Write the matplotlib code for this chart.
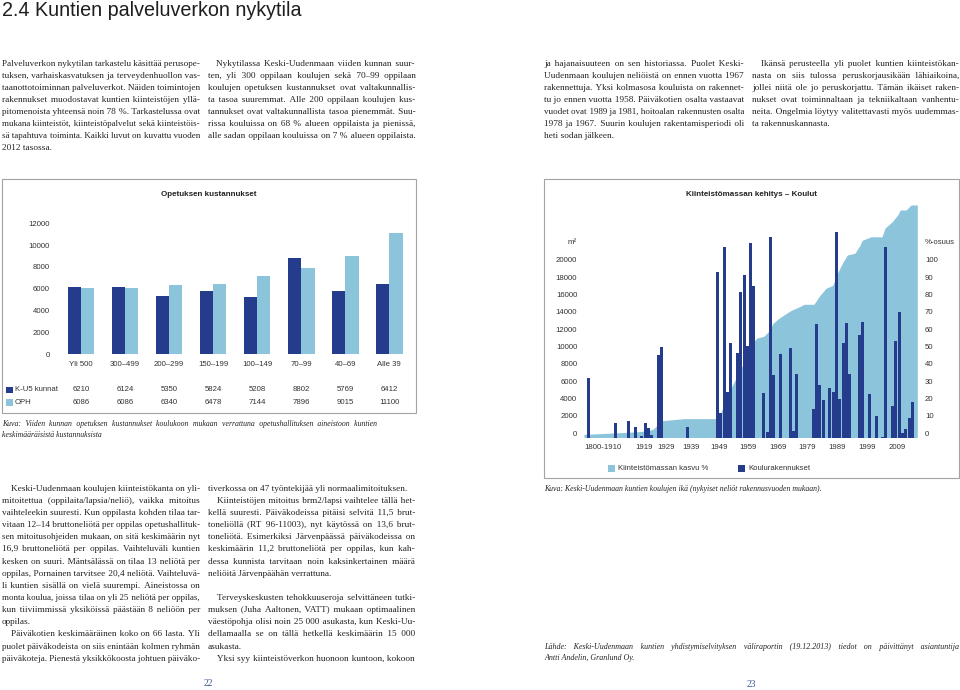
import numpy as np
import matplotlib
matplotlib.use("Agg")
import matplotlib.pyplot as plt
from matplotlib.font_manager import FontProperties
from matplotlib.patches import Rectangle
from matplotlib.transforms import ScaledTranslation, blended_transform_factory

W, H, DPI = 960, 690, 100
DARK = "#253b8c"
LIGHT = "#8cc4dc"
INK = "#333333"
BODY = "#222222"
SANS = ["Liberation Sans", "DejaVu Sans"]
SERIF = ["Liberation Serif", "DejaVu Serif"]
plt.rcParams["font.family"] = SANS

# ─── Left chart data: teaching costs by school size ───────────────────────────
size_groups = ["Yli 500", "300–499", "200–299", "150–199",
               "100–149", "70–99", "40–69", "Alle 39"]
cost_ku5 = [6210, 6124, 5350, 5824, 5208, 8802, 5769, 6412]
cost_oph = [6086, 6086, 6340, 6478, 7144, 7896, 9015, 11100]

# ─── Right chart data: school floor area by build year (slot index) ───────────
bar_slot = [1, 9, 13, 15, 17, 18, 19, 20, 22, 23, 31,
            40, 41, 42, 43, 44, 46, 47, 48, 49, 50, 51,
            54, 55, 56, 57, 59, 62, 63, 64,
            69, 70, 71, 72, 74, 75, 76, 77, 78, 79, 80, 83, 84,
            86, 88, 90, 91, 93, 94, 95, 96, 97, 98, 99]
bar_m2 = [6900, 1710, 1940, 1250, 200, 1710, 1100, 250, 9540, 10500, 1250,
          19170, 2870, 21990, 5300, 10960, 9730, 16780, 18790, 10610, 22520, 17510,
          5110, 670, 23140, 7190, 9690, 10350, 720, 7300,
          3260, 13090, 6070, 4340, 5760, 5300, 23720, 4450, 10960, 13200, 7300, 11850, 13350,
          5030, 2490, 100, 22060, 3640, 11190, 14510, 490, 950, 2220, 4070]
area_slot = [-0.5, 10.7, 16.5, 18.9, 20.4, 23.1, 29.8, 39.5, 40.7, 42.8, 44.7,
             46.8, 48.9, 50.7, 51.9, 54.0, 55.3, 56.8, 58.3, 59.8, 62.3, 64.7,
             66.2, 69.2, 70.7, 72.8, 74.9, 76.5, 77.8, 79.3, 81.6, 83.1, 83.8,
             86.5, 89.8, 90.7, 92.9, 94.7, 95.3, 97.1, 98.6, 100.5]
area_pct = [1.8, 2.8, 3.4, 4.0, 4.7, 9.7, 10.9, 10.9, 13.0, 23.6, 31.0,
            39.0, 46.7, 55.0, 57.5, 58.5, 61.0, 66.0, 68.5, 70.5, 73.5, 75.5,
            77.0, 77.0, 81.4, 86.2, 88.0, 95.8, 100.7, 105.5, 106.5, 111.0, 114.0,
            116.0, 116.0, 121.0, 124.7, 129.0, 131.5, 131.5, 134.4, 134.4]
year_tick_slot = [5.4, 17.7, 24.3, 31.9, 40.3, 49.2, 58.2, 67.2, 76.1, 85.2, 94.3]
year_tick_label = ["1800-1910", "1919", "1929", "1939", "1949", "1959",
                   "1969", "1979", "1989", "1999", "2009"]

# ─── Page text ────────────────────────────────────────────────────────────────
heading = "2.4 Kuntien palveluverkon nykytila"

text_a = [(False, True, [
    "Palveluverkon nykytilan tarkastelu käsittää perusope-",
    "tuksen, varhaiskasvatuksen ja terveydenhuollon vas-",
    "taanottotoiminnan palveluverkot.  Näiden toimintojen",
    "rakennukset muodostavat kuntien kiinteistöjen yllä-",
    "pitomenoista yhteensä noin 78 %. Tarkastelussa ovat",
    "mukana kiinteistöt, kiinteistöpalvelut sekä kiinteistöis-",
    "sä tapahtuva toiminta. Kaikki luvut on kuvattu vuoden",
    "2012 tasossa."])]
text_b = [(True, False, [
    "Nykytilassa Keski-Uudenmaan viiden kunnan suur-",
    "ten, yli 300 oppilaan koulujen sekä 70–99 oppilaan",
    "koulujen opetuksen kustannukset ovat valtakunnallis-",
    "ta tasoa suuremmat. Alle 200 oppilaan koulujen kus-",
    "tannukset ovat valtakunnallista tasoa pienemmät. Suu-",
    "rissa kouluissa on 68 % alueen oppilaista ja pienissä,",
    "alle sadan oppilaan kouluissa on 7 % alueen oppilaista."])]
text_c = [(False, True, [
    "ja hajanaisuuteen on sen historiassa. Puolet Keski-",
    "Uudenmaan koulujen neliöistä on ennen vuotta 1967",
    "rakennettuja. Yksi kolmasosa kouluista on rakennet-",
    "tu jo ennen vuotta 1958. Päiväkotien osalta vastaavat",
    "vuodet ovat 1989 ja 1981, hoitoalan rakennusten osalta",
    "1978 ja 1967. Suurin koulujen rakentamisperiodi oli",
    "heti sodan jälkeen."])]
text_d = [(True, True, [
    "Ikänsä perusteella yli puolet kuntien kiinteistökan-",
    "nasta on siis tulossa peruskorjausikään lähiaikoina,",
    "jollei niitä ole jo peruskorjattu. Tämän ikäiset raken-",
    "nukset ovat toiminnaltaan ja tekniikaltaan vanhentu-",
    "neita. Ongelmia löytyy valitettavasti myös uudemmas-",
    "ta rakennuskannasta."])]
text_e = [(True, True, [
    "Keski-Uudenmaan koulujen kiinteistökanta on yli-",
    "mitoitettua (oppilaita/lapsia/neliö), vaikka mitoitus",
    "vaihteleekin suuresti. Kun oppilasta kohden tilaa tar-",
    "vitaan 12–14 bruttoneliötä per oppilas opetushallituk-",
    "sen mitoitusohjeiden mukaan, on sitä keskimäärin nyt",
    "16,9 bruttoneliötä per oppilas. Vaihteluväli kuntien",
    "kesken on suuri. Mäntsälässä on tilaa 13 neliötä per",
    "oppilas, Pornainen tarvitsee 20,4 neliötä. Vaihteluvä-",
    "li kuntien sisällä on vielä suurempi. Aineistossa on",
    "monta koulua, joissa tilaa on yli 25 neliötä per oppilas,",
    "kun tiiviimmissä yksiköissä päästään 8 neliöön per",
    "oppilas."]),
    (True, False, [
    "Päiväkotien keskimääräinen koko on 66 lasta. Yli",
    "puolet päiväkodeista on siis enintään kolmen ryhmän",
    "päiväkoteja. Pienestä yksikkökoosta johtuen päiväko-"])]
text_f = [(False, True, ["tiverkossa on 47 työntekijää yli normaalimitoituksen."]),
          (True, True, [
    "Kiinteistöjen mitoitus brm2/lapsi vaihtelee tällä het-",
    "kellä suuresti. Päiväkodeissa pitäisi selvitä 11,5 brut-",
    "toneliöllä (RT 96-11003), nyt käytössä on 13,6 brut-",
    "toneliötä. Esimerkiksi Järvenpäässä päiväkodeissa on",
    "keskimäärin 11,2 bruttoneliötä per oppilas, kun kah-",
    "dessa kunnista tarvitaan noin kaksinkertainen määrä",
    "neliöitä Järvenpäähän verrattuna."]),
          (False, True, [""]),
          (True, True, [
    "Terveyskeskusten tehokkuuseroja selvittäneen tutki-",
    "muksen (Juha Aaltonen, VATT) mukaan optimaalinen",
    "väestöpohja olisi noin 25 000 asukasta, kun Keski-Uu-",
    "dellamaalla se on tällä hetkellä keskimäärin 15 000",
    "asukasta."]),
          (True, False, ["Yksi syy kiinteistöverkon huonoon kuntoon, kokoon"])]

caption_left = [(False, True, [
    "Kuva: Viiden kunnan opetuksen kustannukset koulukoon mukaan verrattuna opetushallituksen aineistoon kuntien",
    "keskimääräisistä kustannuksista"])]
caption_right = [(False, True, [
    "Kuva: Keski-Uudenmaan kuntien koulujen ikä (nykyiset neliöt rakennusvuoden mukaan)."])]
source_note = [(False, True, [
    "Lähde: Keski-Uudenmaan kuntien yhdistymiselvityksen väliraportin (19.12.2013) tiedot on päivittänyt asiantuntija",
    "Antti Andelin, Granlund Oy."])]

# ─── Helpers ──────────────────────────────────────────────────────────────────
fig = plt.figure(figsize=(W / DPI, H / DPI), dpi=DPI)
fig.patch.set_facecolor("white")
renderer = fig.canvas.get_renderer()
HAIR = "\u200a"


def text_w(s, prop):
    w, _, _ = renderer.get_text_width_height_descent(s, prop, ismath=False)
    return w


def px_axes(left, top, right, bottom):
    return fig.add_axes([left / W, 1 - bottom / H, (right - left) / W, (bottom - top) / H])


def spread(words, n):
    # join words, sharing n hair spaces evenly over the gaps
    gaps = len(words) - 1
    out = words[0]
    used = 0
    for i, wd in enumerate(words[1:], start=1):
        k = int(round(n * i / gaps)) - used
        used += k
        out += " " + HAIR * k + wd
    return out


def justify(words, prop, avail):
    hs = (text_w("n" + HAIR * 20 + "n", prop) - text_w("nn", prop)) / 20
    n = max(0, int(round((avail - text_w(" ".join(words), prop)) / max(hs, 0.05))))
    line = spread(words, n)
    # nudge until the rendered width sits on the column edge
    for _ in range(6):
        err = text_w(line, prop) - avail
        if abs(err) <= hs * 0.6 or hs < 0.05:
            break
        n = max(0, n - int(np.sign(err)) * max(1, int(abs(err) / hs)))
        line = spread(words, n)
    return line


def set_column(paras, x0, x1, y_first, lead, size, indent=0.0, style="normal",
               color=BODY, tight=0.99):
    # justified text, one string per line; over-long lines get a smaller size
    y = y_first
    for first_indent, ragged, lines in paras:
        for k, line in enumerate(lines):
            words = line.split()
            left = x0 + (indent if (first_indent and k == 0) else 0.0)
            last = (ragged and k == len(lines) - 1) or len(words) == 1
            if words:
                prop = FontProperties(family=SERIF, size=size, style=style)
                nat = text_w(" ".join(words), prop)
                if nat > (x1 - left) * tight:
                    prop = FontProperties(family=SERIF, style=style,
                                          size=size * (x1 - left) * tight / nat)
                s = " ".join(words) if last else justify(words, prop, x1 - left)
                fig.text(left / W, 1 - (y + 2.4) / H, s, fontproperties=prop,
                         color=color, ha="left", va="baseline")
            y += lead


def box(left, top, right, bottom):
    fig.patches.append(Rectangle((left / W, 1 - bottom / H), (right - left) / W,
                                 (bottom - top) / H, transform=fig.transFigure,
                                 fill=False, edgecolor="#a3a3a3", linewidth=0.8))


def swatch(left, top, size, color):
    fig.patches.append(Rectangle((left / W, 1 - (top + size) / H), size / W, size / H,
                                 transform=fig.transFigure, facecolor=color,
                                 edgecolor="none"))


# ─── Heading ──────────────────────────────────────────────────────────────────
fig.text(2 / W, 1 - 16.5 / H, heading, fontsize=14.2, color="#1e1e1e",
         ha="left", va="baseline", family=SANS)

# ─── Body text ────────────────────────────────────────────────────────────────
IND = 9
BS = 6.7
set_column(text_a, 2, 200, 63.5, 12.0, BS)
set_column(text_b, 207.5, 415, 63.5, 12.0, BS, indent=IND)
set_column(text_c, 544, 744, 63.5, 12.0, BS)
set_column(text_d, 752, 959, 63.5, 12.0, BS, indent=IND)
set_column(text_e, 2, 200, 488.3, 12.15, BS, indent=IND)
set_column(text_f, 208, 415, 488.3, 12.15, BS, indent=IND)

set_column(caption_left, 2, 377, 424, 10.5, 5.6, style="italic")
set_column(caption_right, 544, 959, 488.3, 10.5, 5.6, style="italic")
set_column(source_note, 544, 959, 646.7, 10.6, 5.8, style="italic")

fig.text(208 / W, 1 - 686 / H, "22", fontsize=7, color="#3d5a9e", ha="center",
         va="baseline", family=SERIF)
fig.text(751.7 / W, 1 - 687 / H, "23", fontsize=7, color="#3d5a9e", ha="center",
         va="baseline", family=SERIF)

# ─── Left chart: Opetuksen kustannukset ───────────────────────────────────────
box(2, 179, 416, 413.3)
fig.text(208.3 / W, 1 - 195 / H, "Opetuksen kustannukset", fontsize=5.8,
         fontweight="bold", color="#222222", ha="center", va="center")

ax1 = px_axes(56.8, 223.3, 413.5, 354.3)
x = np.arange(len(size_groups))
bw = 0.302
ax1.bar(x - bw / 2, cost_ku5, width=bw, color=DARK, linewidth=0)
ax1.bar(x + bw / 2, cost_oph, width=bw, color=LIGHT, linewidth=0)
ax1.set_xlim(-0.55, 7.55)
ax1.set_ylim(0, 12000)
ax1.set_yticks(range(0, 12001, 2000))
ax1.set_xticks(x, size_groups)
ax1.tick_params(axis="y", length=0, pad=4.9, labelsize=5.6, labelcolor=INK)
ax1.tick_params(axis="x", length=0, pad=5.0, labelsize=5.6, labelcolor=INK)
ax1.patch.set_visible(False)
for s in ax1.spines.values():
    s.set_visible(False)

# value table under the chart
tbl = blended_transform_factory(ax1.transData, fig.transFigure)
for row_y, label, vals, col in [(390, "K-U5 kunnat", cost_ku5, DARK),
                                (402.7, "OPH", cost_oph, LIGHT)]:
    swatch(6, row_y - 3.4, 6.8, col)
    fig.text(15 / W, 1 - row_y / H, label, fontsize=5.6, color=INK,
             ha="left", va="center")
    for i, v in enumerate(vals):
        ax1.text(i, 1 - row_y / H, str(v), transform=tbl, fontsize=5.6,
                 color=INK, ha="center", va="center")

# ─── Right chart: Kiinteistömassan kehitys – Koulut ───────────────────────────
box(544, 179, 958.5, 477.7)
fig.text(751.7 / W, 1 - 195 / H, "Kiinteistömassan kehitys – Koulut", fontsize=5.8,
         fontweight="bold", color="#222222", ha="center", va="center")

ax2 = px_axes(584, 195.3, 917.3, 437.5)
axa = ax2.twinx()
axa.fill_between(area_slot, area_pct, 0, color=LIGHT, linewidth=0)
axa.set_ylim(0, 140)
ax2.bar(bar_slot, bar_m2, width=0.92, color=DARK, linewidth=0)
ax2.set_xlim(-0.5, 100.5)
ax2.set_ylim(0, 28000)
ax2.set_zorder(axa.get_zorder() + 1)
ax2.patch.set_visible(False)
axa.patch.set_visible(False)

ax2.set_yticks(range(0, 20001, 2000))
axa.set_yticks(range(0, 101, 10))
ax2.set_xticks(year_tick_slot, year_tick_label)
ax2.tick_params(axis="y", length=0, pad=4.8, labelsize=5.6, labelcolor=INK)
axa.tick_params(axis="y", length=0, pad=5.5, labelsize=5.6, labelcolor=INK)
ax2.tick_params(axis="x", length=0, pad=4.5, labelsize=5.6, labelcolor=INK)
for a in (ax2, axa):
    for s in a.spines.values():
        s.set_visible(False)

# tick labels sit a little above their gridline in the original
lift = ScaledTranslation(0, 4.5 / DPI, fig.dpi_scale_trans)
for lab in ax2.get_yticklabels() + axa.get_yticklabels():
    lab.set_transform(lab.get_transform() + lift)

fig.text(571.7 / W, 1 - 242.7 / H, "m²", fontsize=5.6, color=INK,
         ha="center", va="center")
fig.text(925 / W, 1 - 242.7 / H, "%-osuus", fontsize=5.6, color=INK,
         ha="left", va="center")

swatch(608, 465, 7, LIGHT)
fig.text(618 / W, 1 - 468.5 / H, "Kiinteistömassan kasvu %", fontsize=5.6,
         color=INK, ha="left", va="center")
swatch(738, 465, 7, DARK)
fig.text(748 / W, 1 - 468.5 / H, "Koulurakennukset", fontsize=5.6,
         color=INK, ha="left", va="center")

fig.savefig("out.png", dpi=DPI, facecolor="white")
plt.close(fig)
